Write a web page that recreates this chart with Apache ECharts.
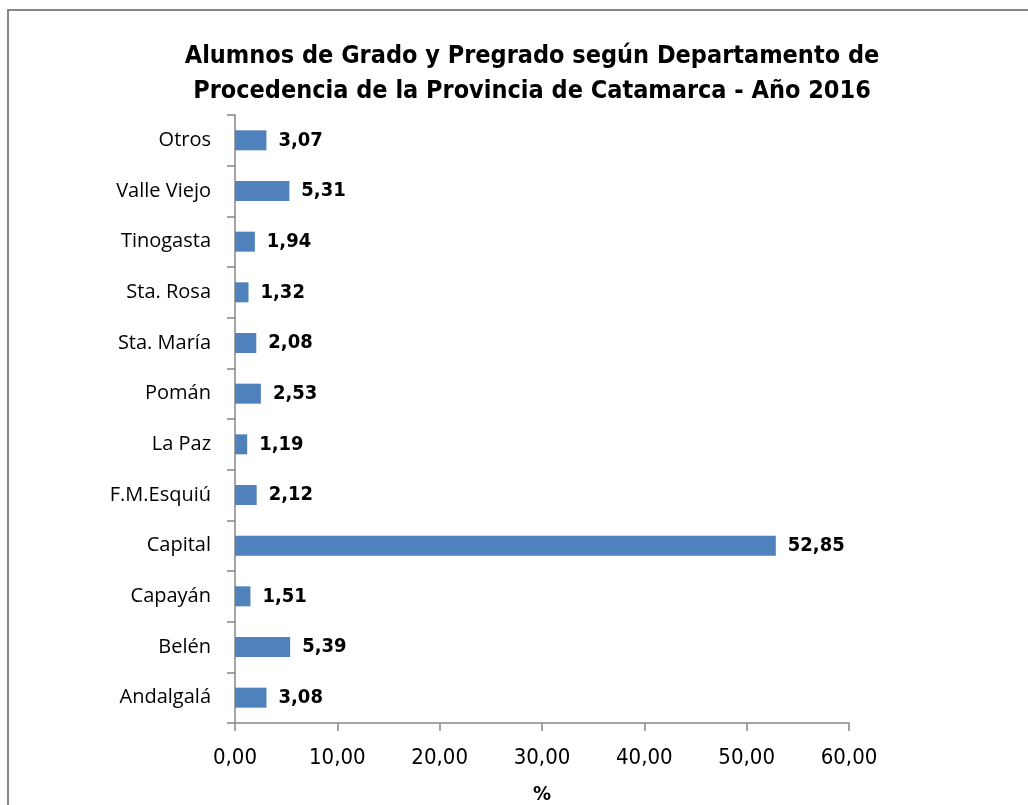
<!DOCTYPE html>
<html>
<head>
<meta charset="utf-8">
<script src="https://cdn.jsdelivr.net/npm/echarts@6/dist/echarts.min.js"></script>
<style>
  html, body { margin: 0; padding: 0; background: #fff; }
  #chart { width: 1028px; height: 805px; }
</style>
</head>
<body>
<div id="chart"></div>
<script>
// departamentos (de abajo hacia arriba, como en el eje)
const departamentos = ['Andalgalá', 'Belén', 'Capayán', 'Capital', 'F.M.Esquiú', 'La Paz',
  'Pomán', 'Sta. María', 'Sta. Rosa', 'Tinogasta', 'Valle Viejo', 'Otros'];
const porcentajes = [3.08, 5.39, 1.51, 52.85, 2.12, 1.19, 2.53, 2.08, 1.32, 1.94, 5.31, 3.07];
const ticksX = [0, 10, 20, 30, 40, 50, 60];

const coma = v => v.toFixed(2).replace('.', ',');
const narrow = 'Liberation Sans Narrow, DejaVu Sans Condensed, Liberation Sans, Arial';

const chart = echarts.init(document.getElementById('chart'));

chart.setOption({
  animation: false,
  graphic: [{
    type: 'rect',
    shape: { x: 8, y: 10, width: 1040, height: 820 },
    style: { fill: 'none', stroke: '#868686', lineWidth: 2 }
  }],
  title: {
    text: 'Alumnos de Grado y Pregrado según Departamento de\nProcedencia de la Provincia de Catamarca - Año 2016',
    left: 527,
    textAlign: 'center',
    top: 34,
    textStyle: {
      fontFamily: narrow,
      fontWeight: 'bold',
      fontSize: 25,
      lineHeight: 35,
      color: '#000'
    }
  },
  grid: { left: 235, right: 179, top: 115, bottom: 82, outerBoundsMode: 'none', containLabel: false },
  xAxis: {
    type: 'value',
    min: ticksX[0],
    max: ticksX[ticksX.length - 1],
    interval: 10,
    name: '%',
    nameLocation: 'middle',
    nameGap: 62,
    nameTextStyle: {
      fontFamily: narrow,
      fontWeight: 'bold',
      fontSize: 20,
      color: '#000'
    },
    axisLine: { show: true, lineStyle: { color: '#868686', width: 1.5 } },
    axisTick: { show: true, length: 8, lineStyle: { color: '#868686', width: 1.5 } },
    splitLine: { show: false },
    axisLabel: {
      margin: 24,
      fontFamily: narrow,
      fontSize: 22,
      color: '#000',
      formatter: v => coma(v)
    }
  },
  yAxis: {
    type: 'category',
    data: departamentos,
    axisLine: { lineStyle: { color: '#868686', width: 1.5 } },
    axisTick: { show: true, length: 8, lineStyle: { color: '#868686', width: 1.5 } },
    axisLabel: {
      margin: 24,
      fontFamily: 'Open Sans, Noto Sans, sans-serif',
      fontSize: 20,
      color: '#000'
    }
  },
  series: [{
    type: 'bar',
    data: porcentajes,
    barWidth: 20,
    itemStyle: { color: '#4F81BD' },
    label: {
      show: true,
      position: 'right',
      distance: 12,
      formatter: p => coma(p.value),
      fontFamily: narrow,
      fontWeight: 'bold',
      fontSize: 20,
      color: '#000'
    }
  }]
});
</script>
</body>
</html>
